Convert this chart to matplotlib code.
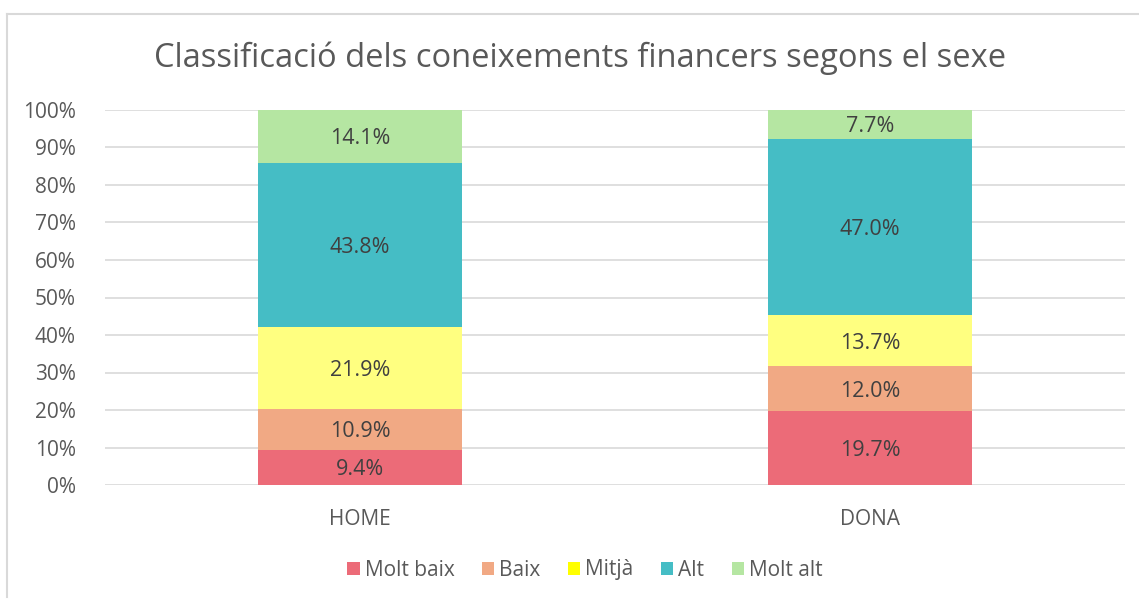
import matplotlib
matplotlib.use("Agg")
import matplotlib.pyplot as plt
from matplotlib.lines import Line2D
from matplotlib.patches import Patch
import numpy as np

categories = ["HOME", "DONA"]
series_names = ["Molt baix", "Baix", "Mitjà", "Alt", "Molt alt"]
molt_baix = [9.4, 19.7]
baix = [10.9, 12.0]
mitja = [21.9, 13.7]
alt = [43.8, 47.0]
molt_alt = [14.1, 7.7]
title = "Classificació dels coneixements financers segons el sexe"

bar_colors = ["#EC6B78", "#F1A984", "#FFFF80", "#45BDC5", "#B5E6A2"]
legend_colors = ["#EC6B78", "#F1A984", "#FFFF00", "#45BDC5", "#B5E6A2"]

plt.rcParams['font.family'] = ['Open Sans', 'DejaVu Sans']

W, H = 1139, 599
fig = plt.figure(figsize=(W / 100, H / 100), dpi=100)
ax = fig.add_axes([105 / W, 1 - 485 / H, (1125 - 105) / W, (485 - 110) / H])

data = np.array([molt_baix, baix, mitja, alt, molt_alt], dtype=float)
totals = data.sum(axis=0)
pct = data / totals * 100
x = np.arange(len(categories))
bottom = np.zeros(len(categories))
for i, name in enumerate(series_names):
    ax.bar(x, pct[i], bottom=bottom, width=0.4, color=bar_colors[i], zorder=3)
    for j in range(len(categories)):
        ax.text(x[j], bottom[j] + pct[i][j] / 2, f"{data[i][j]:.1f}%",
                ha="center", va="center_baseline", fontsize=15.5, color="#404040", zorder=4)
    bottom += pct[i]

ax.set_xlim(-0.5, len(categories) - 0.5)
ax.set_ylim(0, 100)
ax.set_yticks(np.arange(0, 101, 10))
ax.set_yticklabels([f"{v}%" for v in range(0, 101, 10)])
ax.set_xticks(x)
ax.set_xticklabels(categories)
ax.tick_params(axis="both", length=0, labelsize=15, colors="#595959")
ax.tick_params(axis="y", pad=21)
ax.tick_params(axis="x", pad=17)
ax.grid(axis="y", color="#D9D9D9", linewidth=1.2, zorder=0)
for s in ax.spines.values():
    s.set_visible(False)

fig.text(580 / W, 1 - 58 / H, title, ha="center", va="center", fontsize=23.5, color="#595959")

handles = [Patch(facecolor=c, edgecolor="none") for c in legend_colors]
leg = fig.legend(handles, series_names, loc="center", bbox_to_anchor=(585 / W, 1 - 570 / H),
                 ncol=5, frameon=False, fontsize=15, handlelength=0.6, handleheight=0.6,
                 handletextpad=0.25, columnspacing=1.3)
for t in leg.get_texts():
    t.set_color("#595959")

fig.add_artist(Line2D([7 / W, 1], [1 - 14 / H, 1 - 14 / H], transform=fig.transFigure,
                      color="#D9D9D9", linewidth=1.5))
fig.add_artist(Line2D([7 / W, 7 / W], [1 - 14 / H, 0.003], transform=fig.transFigure,
                      color="#D9D9D9", linewidth=1.5))

fig.savefig("out.png", dpi=100)
